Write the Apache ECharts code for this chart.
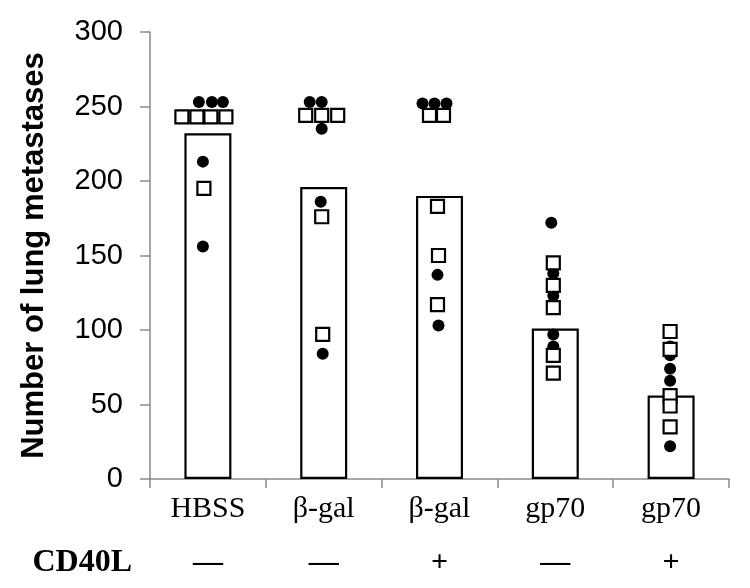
<!DOCTYPE html>
<html>
<head>
<meta charset="utf-8">
<script src="https://cdn.jsdelivr.net/npm/echarts@6/dist/echarts.min.js"></script>
<style>html,body{margin:0;padding:0;background:#fff}#c{width:750px;height:588px}</style>
</head>
<body>
<div id="c"></div>
<script>
// ---- data ----
const categories = ['HBSS', 'β-gal', 'β-gal', 'gp70', 'gp70'];
const cd40l = ['—', '—', '+', '—', '+'];
const barMeans = [232, 196, 190, 101, 56];
const yTicks = [0, 50, 100, 150, 200, 250, 300];

// individual animals (filled circles / open squares), per group
const circleVals = [
  [253, 253, 253, 213, 156],
  [253, 253, 235, 186, 84],
  [252, 252, 252, 137, 103],
  [172, 138, 123, 97, 89],
  [89, 83, 74, 66, 22]
];
const squareVals = [
  [243, 243, 243, 243, 195],
  [244, 244, 244, 176, 97],
  [244, 244, 183, 150, 117],
  [145, 130, 115, 83, 71],
  [99, 87, 56, 49, 35]
];
// horizontal jitter of points (px), style only
const circleJitter = [
  [-9, 4, 15, -5, -5],
  [-14, -2, -2, -3, -1],
  [-17, -5, 7, -2, -1],
  [-4, -2, -2, -2, -2],
  [-1, -1, -1, -1, -1]
];
const squareJitter = [
  [-26, -11, 3, 18, -4],
  [-18, -2, 14, -2, -1],
  [-10, 4, -2, -1, -2],
  [-2, -2, -2, -2, -2],
  [-1, -1, -1, -1, -1]
];

function pts(vals, jit) {
  const out = [];
  vals.forEach((arr, i) => arr.forEach((v, j) => {
    out.push({ value: [i, v], symbolOffset: [jit[i][j], 0] });
  }));
  return out;
}

const chart = echarts.init(document.getElementById('c'));
chart.setOption({
  animation: false,
  grid: { left: 150, right: 21, top: 32, bottom: 109 },
  xAxis: [{
    type: 'category',
    data: categories,
    axisLine: { lineStyle: { color: '#8a8a8a', width: 1.5 } },
    axisTick: { show: true, length: 9, lineStyle: { color: '#8a8a8a', width: 1.5 } },
    axisLabel: { color: '#000', fontFamily: 'Liberation Serif', fontSize: 30, margin: 15 }
  }, {
    type: 'category',
    data: cd40l,
    position: 'bottom',
    offset: 84,
    axisLine: { show: false },
    axisTick: { show: false },
    axisLabel: { color: '#000', fontFamily: 'Liberation Serif', fontWeight: 'bold', fontSize: 30, margin: 0, verticalAlign: 'middle' },
    name: 'CD40L',
    nameLocation: 'start',
    nameGap: 18,
    nameTextStyle: { color: '#000', fontFamily: 'Liberation Serif', fontWeight: 'bold', fontSize: 32, verticalAlign: 'middle' }
  }],
  yAxis: {
    type: 'value',
    min: 0, max: 300, interval: 50,
    splitLine: { show: false },
    axisLine: { show: true, lineStyle: { color: '#8a8a8a', width: 1.5 } },
    axisTick: { show: true, length: 10, lineStyle: { color: '#8a8a8a', width: 1.5 } },
    axisLabel: { color: '#000', fontFamily: 'Liberation Sans', fontSize: 29, margin: 27,
      formatter: v => yTicks.includes(v) ? String(v) : '' },
    name: 'Number of lung metastases',
    nameLocation: 'middle',
    nameGap: 100,
    nameTextStyle: { color: '#000', fontFamily: 'Liberation Sans', fontWeight: 'bold', fontSize: 31 }
  },
  series: [{
    type: 'bar',
    data: barMeans,
    barWidth: 47,
    itemStyle: { color: '#fff', borderColor: '#000', borderWidth: 2.2 },
    z: 1
  }, {
    type: 'scatter',
    data: pts(circleVals, circleJitter),
    symbol: 'circle',
    symbolSize: 12,
    itemStyle: { color: '#000', opacity: 1 },
    z: 3
  }, {
    type: 'scatter',
    data: pts(squareVals, squareJitter),
    symbol: 'rect',
    symbolSize: 13,
    itemStyle: { color: '#fff', borderColor: '#000', borderWidth: 2.2, opacity: 1 },
    z: 4
  }]
});
</script>
</body>
</html>
